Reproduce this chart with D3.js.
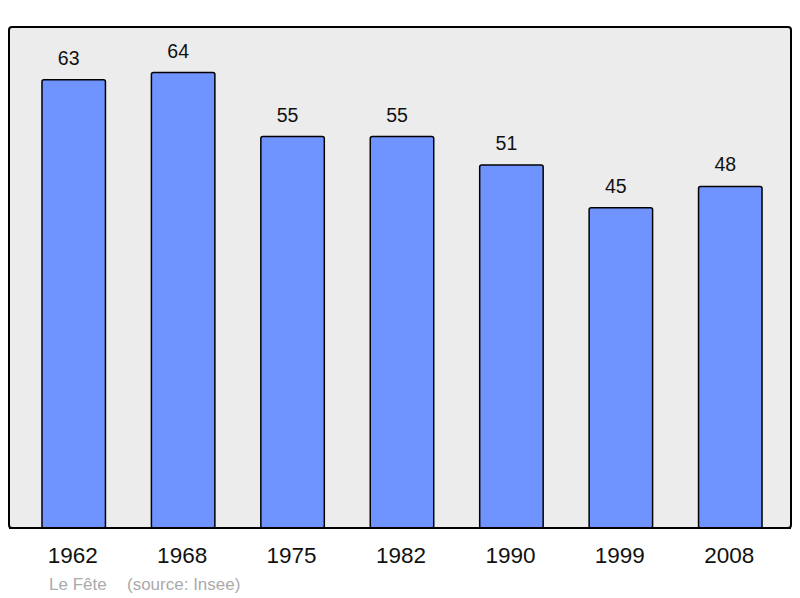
<!DOCTYPE html>
<html>
<head>
<meta charset="utf-8">
<script src="https://cdnjs.cloudflare.com/ajax/libs/d3/7.8.5/d3.min.js"></script>
<style>
body { margin: 0; background: #fff; }
text { font-family: "Liberation Sans", Arial, sans-serif; }
</style>
</head>
<body>
<script>
var years = ["1962", "1968", "1975", "1982", "1990", "1999", "2008"];
var population = [63, 64, 55, 55, 51, 45, 48];
var commune = "Le Fête";
var source = "(source: Insee)";

var width = 800, height = 598;
var svg = d3.select("body").append("svg")
    .attr("width", width).attr("height", height);

// frame
var panel = {left: 9, top: 27, right: 791, bottom: 528};
svg.append("rect")
    .attr("x", panel.left).attr("y", panel.top)
    .attr("width", panel.right - panel.left)
    .attr("height", panel.bottom - panel.top)
    .attr("rx", 3)
    .attr("fill", "#ececec")
    .attr("stroke", "#000").attr("stroke-width", 2);

var x = d3.scaleBand()
    .domain(years)
    .range([19, 785])
    .paddingInner(0.42)
    .paddingOuter(0.21);

var y = d3.scaleLinear()
    .domain([0, d3.max(population) * 1.1])
    .range([panel.bottom, panel.top]);

var data = years.map(function(yr, i) { return {year: yr, value: population[i]}; });

svg.selectAll("rect.bar").data(data).enter().append("rect")
    .attr("class", "bar")
    .attr("x", function(d) { return x(d.year); })
    .attr("y", function(d) { return y(d.value); })
    .attr("width", x.bandwidth())
    .attr("height", function(d) { return panel.bottom - y(d.value); })
    .attr("rx", 2)
    .attr("fill", "#7094ff")
    .attr("stroke", "#000").attr("stroke-width", 1.5);

// value labels (sit a little left of bar centre, like the original)
svg.selectAll("text.val").data(data).enter().append("text")
    .attr("class", "val")
    .attr("x", function(d) { return x(d.year) + x.bandwidth() / 2 - 5; })
    .attr("y", function(d) { return y(d.value) - 15; })
    .attr("text-anchor", "middle")
    .attr("font-size", 19.5)
    .attr("fill", "#111")
    .text(function(d) { return d.value; });

// redraw bottom edge over bars
svg.append("line")
    .attr("x1", panel.left).attr("x2", panel.right)
    .attr("y1", panel.bottom).attr("y2", panel.bottom)
    .attr("stroke", "#000").attr("stroke-width", 2);

// year labels
var xAxis = d3.axisBottom(x).tickSize(0).tickPadding(0);
var ax = svg.append("g")
    .attr("transform", "translate(-1," + 547 + ")")
    .call(xAxis);
ax.select(".domain").remove();
ax.selectAll("text")
    .attr("font-size", 22.5)
    .attr("font-family", "'Liberation Sans', Arial, sans-serif")
    .attr("fill", "#111");

var foot = svg.append("g").attr("font-size", 17).attr("fill", "#aaa");
foot.append("text").attr("x", 49).attr("y", 590).text(commune);
foot.append("text").attr("x", 127).attr("y", 590).text(source);
</script>
</body>
</html>
